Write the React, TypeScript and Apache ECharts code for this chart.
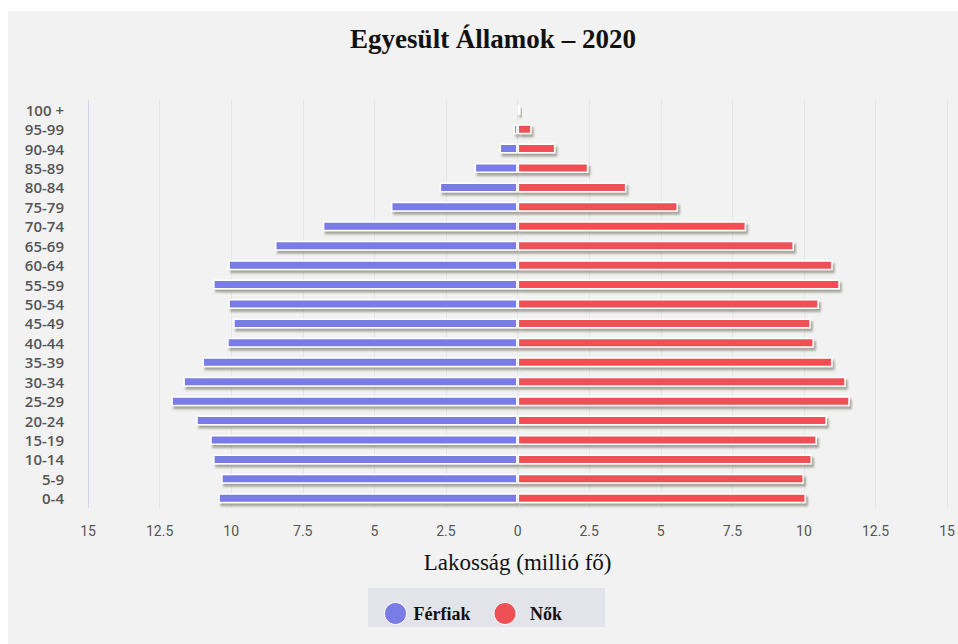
import React, { useEffect, useRef } from "react";
import * as echarts from "echarts";

const ageGroups = [
  "0-4", "5-9", "10-14", "15-19", "20-24", "25-29", "30-34", "35-39", "40-44", "45-49",
  "50-54", "55-59", "60-64", "65-69", "70-74", "75-79", "80-84", "85-89", "90-94", "95-99", "100 +",
];
// millions (males shown to the left)
const males = [
  10.45, 10.35, 10.63, 10.73, 11.22, 12.09, 11.67, 11.0, 10.14, 9.93,
  10.1, 10.63, 10.1, 8.47, 6.8, 4.42, 2.72, 1.5, 0.63, 0.14, 0.03,
];
const females = [
  10.07, 10.0, 10.28, 10.45, 10.8, 11.6, 11.46, 11.0, 10.35, 10.24,
  10.52, 11.25, 11.0, 9.65, 7.98, 5.6, 3.8, 2.47, 1.32, 0.49, 0.1,
];
const xTicks = [-15, -12.5, -10, -7.5, -5, -2.5, 0, 2.5, 5, 7.5, 10, 12.5, 15];

const MALE_COLOR = "#7a7ce6";
const FEMALE_COLOR = "#ef5055";

export default function App() {
  const ref = useRef<HTMLDivElement>(null);
  useEffect(() => {
    if (!ref.current) return;
    const chart = echarts.init(ref.current, undefined, { renderer: "svg" });
    const barStyle = (color: string) => ({
      color,
      borderColor: "#ffffff",
      borderWidth: 1.5,
      shadowColor: "rgba(90,90,70,0.5)",
      shadowOffsetX: 2,
      shadowOffsetY: 3,
      shadowBlur: 2,
    });
    chart.setOption({
      animation: false,
      backgroundColor: "#f2f2f2",
      title: {
        text: "Egyesült Államok – 2020",
        left: 480,
        top: 9,
        textAlign: "center",
        textStyle: {
          fontFamily: "Liberation Serif, Times New Roman, serif",
          fontWeight: "bold",
          fontSize: 27,
          color: "#111111",
        },
      },
      graphic: [
        {
          type: "rect",
          z: 1,
          shape: { x: 360, y: 577, width: 237, height: 39 },
          style: { fill: "#e3e3ea" },
        },
      ],
      legend: {
        z: 5,
        left: 371,
        top: 586,
        itemWidth: 22,
        itemHeight: 22,
        itemGap: 23,
        icon: "circle",
        textStyle: {
          fontFamily: "Liberation Serif, Times New Roman, serif",
          fontWeight: "bold",
          fontSize: 18,
          color: "#111111",
          padding: [0, 0, 0, 2],
        },
        data: [
          { name: "Férfiak", itemStyle: { borderColor: "#ffffff", borderWidth: 1 } },
          {
            name: "Nők",
            itemStyle: { borderColor: "#ffffff", borderWidth: 1 },
            textStyle: { padding: [0, 0, 0, 9] },
          },
        ],
      },
      grid: { left: 80, right: 7, top: 89, bottom: 136, containLabel: false },
      xAxis: {
        type: "value",
        min: -15,
        max: 15,
        interval: 2.5,
        name: "Lakosság (millió fő)",
        nameLocation: "middle",
        nameGap: 43,
        nameTextStyle: {
          fontFamily: "Liberation Serif, Times New Roman, serif",
          fontSize: 23,
          color: "#111111",
        },
        axisLine: { show: false },
        axisTick: { show: false },
        axisLabel: {
          margin: 16,
          fontFamily: "Liberation Sans Narrow, Roboto, sans-serif",
          fontSize: 14,
          color: "#555555",
          formatter: (v: number) => (xTicks.includes(v) ? String(Math.abs(v)) : ""),
        },
        splitLine: { show: true, lineStyle: { color: "#e6e6e6", width: 1 } },
      },
      yAxis: {
        type: "category",
        data: ageGroups,
        axisLine: { show: true, onZero: false, lineStyle: { color: "#ccd6eb", width: 1 } },
        axisTick: { show: false },
        axisLabel: {
          interval: 0,
          margin: 24,
          fontFamily: "Open Sans, Noto Sans, sans-serif",
          fontWeight: 600,
          fontSize: 15,
          lineHeight: 16,
          color: "#555555",
        },
      },
      series: [
        {
          name: "Férfiak",
          type: "bar",
          stack: "pop",
          barWidth: 10,
          data: males.map((v) => -v),
          itemStyle: barStyle(MALE_COLOR),
        },
        {
          name: "Nők",
          type: "bar",
          stack: "pop",
          barWidth: 10,
          data: females,
          itemStyle: barStyle(FEMALE_COLOR),
        },
      ],
    });
    return () => chart.dispose();
  }, []);
  return (
    <div
      ref={ref}
      style={{ position: "fixed", left: 8, top: 11, width: 950, height: 633 }}
    />
  );
}
